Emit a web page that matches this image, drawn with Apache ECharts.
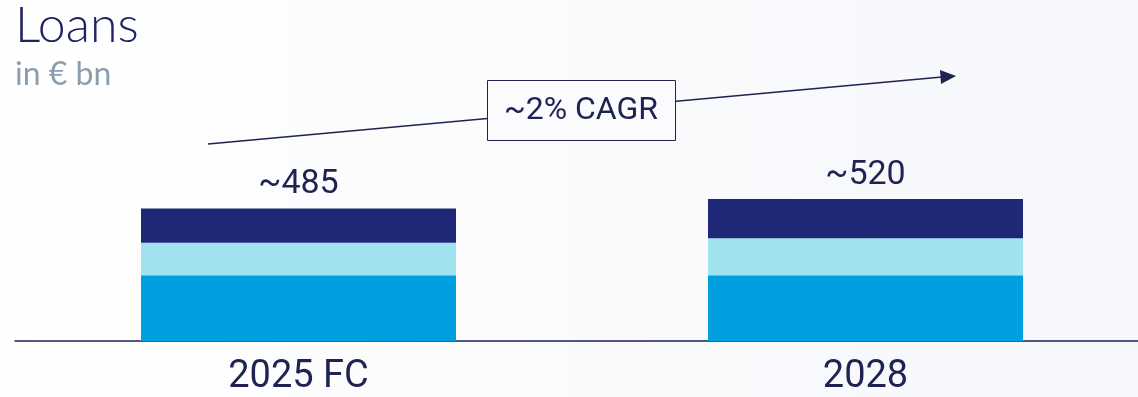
<!DOCTYPE html>
<html><head><meta charset="utf-8">
<script src="https://cdn.jsdelivr.net/npm/echarts@6/dist/echarts.min.js"></script>
<style>html,body{margin:0;padding:0;}#c{width:1138px;height:397px;}</style>
</head><body><div id="c"></div>
<script>
const categories = ['2025 FC', '2028'];
const seriesBase = [241, 241];     // bright blue (bottom)
const seriesMid = [119, 135];      // light cyan (middle)
const seriesTop = [125, 144];      // dark navy (top)
const totalLabels = ['~485', '~520'];
const cagrText = '~2% CAGR';

const chart = echarts.init(document.getElementById('c'));
const navy = '#1f2777';
const textNavy = '#1e2352';
chart.setOption({
  backgroundColor: new echarts.graphic.LinearGradient(0, 0, 1, 0, [
    {offset: 0, color: '#ffffff'}, {offset: 1, color: '#f6f7fb'}]),
  animation: false,
  grid: [
    {left: 298.5, right: 272.5, top: 68, bottom: 56},
    {left: 15, right: 0, top: 68, bottom: 56}
  ],
  xAxis: [{
    type: 'category', data: categories, boundaryGap: false, gridIndex: 0,
    axisLine: {show: false},
    axisTick: {show: false},
    axisLabel: {color: textNavy, fontSize: 38, fontFamily: 'Roboto', margin: 17}
  }, {
    type: 'value', gridIndex: 1, min: 0, max: 1,
    axisLine: {show: true, lineStyle: {color: '#1e2352', width: 1.5}},
    axisTick: {show: false}, axisLabel: {show: false}, splitLine: {show: false}
  }],
  yAxis: [
    {type: 'value', gridIndex: 0, min: 0, max: 1000, show: false, splitLine: {show: false}},
    {type: 'value', gridIndex: 1, min: 0, max: 1000, show: false, splitLine: {show: false}}
  ],
  series: [
    {type: 'bar', stack: 's', clip: false, data: seriesBase, barWidth: 315, itemStyle: {color: '#00a0e0'}, z: 1},
    {type: 'bar', stack: 's', clip: false, data: seriesMid, itemStyle: {color: '#a0e2f0'}, z: 1},
    {type: 'bar', stack: 's', clip: false, data: seriesTop, itemStyle: {color: navy}, z: 1,
     label: {show: true, position: 'top', distance: 7, color: textNavy, fontSize: 34, fontFamily: 'Roboto',
       formatter: p => totalLabels[p.dataIndex]}}
  ],
  graphic: [
    {type: 'text', left: 15, top: 1, style: {text: 'Loans', font: '300 50px Lato', fill: '#1f2460'}},
    {type: 'text', left: 15, top: 59, style: {text: 'in € bn', font: '32px Lato', fill: '#8d9db0'}},
    {type: 'line', shape: {x1: 208, y1: 144, x2: 942, y2: 77}, style: {stroke: textNavy, lineWidth: 1.5}},
    {type: 'polygon', shape: {points: [[956, 76], [940, 70], [941, 84]]}, style: {fill: textNavy}},
    {type: 'rect', shape: {x: 487.5, y: 80.5, width: 188, height: 60}, style: {fill: '#fbfbfe', stroke: textNavy, lineWidth: 1}},
    {type: 'text', x: 581, y: 111, style: {text: cagrText, font: '32px Roboto', fill: textNavy, align: 'center', verticalAlign: 'middle'}}
  ]
});
</script></body></html>
